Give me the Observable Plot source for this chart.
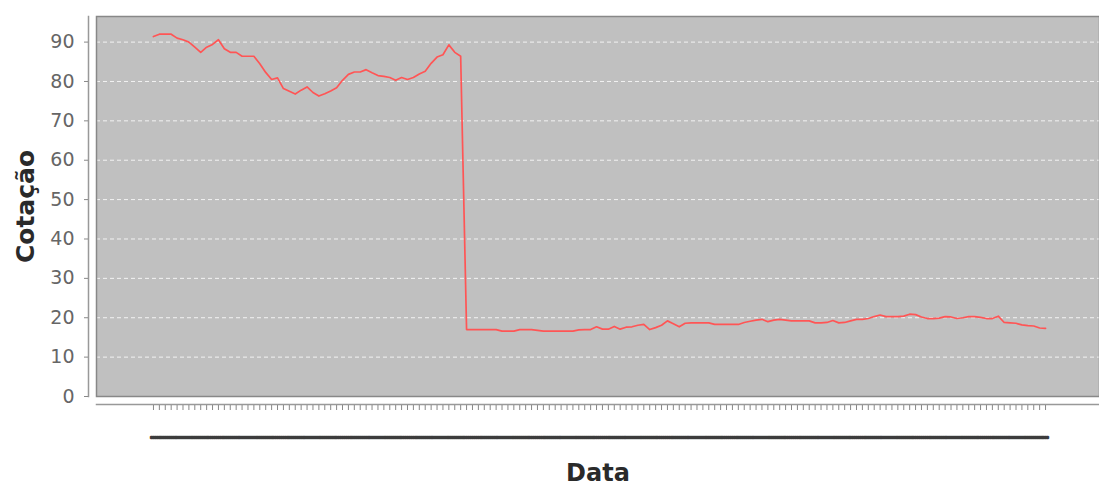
<!DOCTYPE html>
<html><head><meta charset="utf-8">
<script src="https://cdn.jsdelivr.net/npm/d3@7"></script>
<script src="https://cdn.jsdelivr.net/npm/@observablehq/plot@0.6"></script>
<style>html,body{margin:0;padding:0;background:#fff;overflow:hidden} svg{display:block}</style>
</head><body><div id="chart"></div>
<script>
const values = [
  91.4, 92.0, 92.0, 92.0, 91.0, 90.6, 90.0, 88.7, 87.4, 88.7,
  89.4, 90.6, 88.3, 87.4, 87.4, 86.4, 86.4, 86.4, 84.5, 82.3,
  80.5, 80.9, 78.2, 77.5, 76.8, 77.8, 78.6, 77.2, 76.3, 76.9,
  77.6, 78.4, 80.3, 81.8, 82.4, 82.4, 83.0, 82.2, 81.5, 81.3,
  81.0, 80.3, 81.0, 80.5, 81.0, 81.9, 82.6, 84.6, 86.2, 86.8,
  89.3, 87.4, 86.4, 17.0, 17.0, 17.0, 17.0, 17.0, 17.0, 16.6,
  16.6, 16.6, 17.0, 17.0, 17.0, 16.8, 16.6, 16.6, 16.6, 16.6,
  16.6, 16.6, 16.9, 17.0, 17.0, 17.7, 17.1, 17.1, 17.8, 17.1,
  17.6, 17.7, 18.1, 18.3, 17.0, 17.5, 18.1, 19.2, 18.5, 17.7,
  18.6, 18.7, 18.7, 18.7, 18.7, 18.3, 18.3, 18.3, 18.3, 18.3,
  18.8, 19.1, 19.4, 19.6, 19.0, 19.4, 19.6, 19.4, 19.2, 19.2,
  19.2, 19.2, 18.7, 18.7, 18.8, 19.3, 18.7, 18.8, 19.2, 19.6,
  19.6, 19.8, 20.3, 20.7, 20.3, 20.3, 20.3, 20.4, 20.9, 20.8,
  20.2, 19.8, 19.8, 19.9, 20.3, 20.2, 19.8, 20.0, 20.3, 20.3,
  20.1, 19.8, 19.8, 20.4, 18.8, 18.7, 18.6, 18.2, 18.0, 17.9,
  17.4, 17.3
];
const categories = values.map((_, i) => String(i + 1));
const categoryLabel = "...";
const yTicks = [0, 10, 20, 30, 40, 50, 60, 70, 80, 90];
const yTitle = "Cotação";
const xTitle = "Data";

const data = categories.map((c, i) => ({cat: c, value: values[i]}));

const plot = Plot.plot({
  width: 1099, height: 488,
  marginLeft: 96, marginRight: 0, marginTop: 16, marginBottom: 92,
  style: {fontFamily: "DejaVu Sans", background: "#fff"},
  x: {type: "point", domain: categories, range: [150, 1048]},
  y: {domain: [0, 96.5]},
  marks: [
    Plot.frame({fill: "#c0c0c0"}),
    Plot.gridY(yTicks.filter(t => t > 0), {stroke: "#fff", strokeOpacity: 0.8, strokeDasharray: "4,3"}),
    Plot.frame({stroke: "#888", strokeWidth: 1.5}),
    Plot.line(data, {x: "cat", y: "value", stroke: "#ff5555", strokeWidth: 1.7}),
    Plot.frame({anchor: "left", dx: -8, stroke: "#999", strokeWidth: 1.5}),
    Plot.frame({anchor: "bottom", dy: 8, stroke: "#999", strokeWidth: 1.5}),
    Plot.axisY(yTicks, {tickSize: 4, dx: -8, tickPadding: 10, fontSize: 19, stroke: "#888", fill: "#666", label: null}),
    Plot.axisX(categories, {tickSize: 5, dy: 9, tickFormat: null, stroke: "#888", label: null}),
    Plot.text(categories, {x: d => d, text: () => categoryLabel, frameAnchor: "bottom", lineAnchor: "middle", dy: 40,
      fontSize: 5.2, fontWeight: "bold", fill: "#3c3c3c", stroke: "#3c3c3c", strokeWidth: 2.4}),
    Plot.text([yTitle], {frameAnchor: "left", textAnchor: "middle", lineAnchor: "middle", dx: -71, rotate: -90, fontSize: 25, fontWeight: "bold", fill: "#2a2a2a"}),
    Plot.text([xTitle], {frameAnchor: "bottom", textAnchor: "middle", lineAnchor: "middle", dy: 77, fontSize: 24, fontWeight: "bold", fill: "#2a2a2a"})
  ]
});
document.getElementById("chart").appendChild(plot);
</script>
</body></html>
